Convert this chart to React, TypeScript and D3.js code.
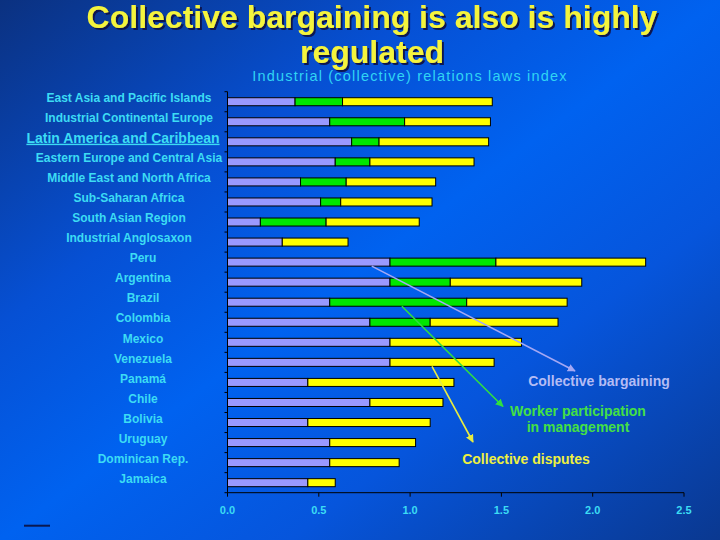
import React from 'react';
import * as d3 from 'd3';

const categories = [
    'East Asia and Pacific Islands',
    'Industrial Continental Europe',
    'Latin America and Caribbean',
    'Eastern Europe and Central Asia',
    'Middle East and North Africa',
    'Sub-Saharan Africa',
    'South Asian Region',
    'Industrial Anglosaxon',
    'Peru',
    'Argentina',
    'Brazil',
    'Colombia',
    'Mexico',
    'Venezuela',
    'Panamá',
    'Chile',
    'Bolivia',
    'Uruguay',
    'Dominican Rep.',
    'Jamaica',
];
// first rows are regions, the rest are countries
const regionCount = 8;

const bargaining = [0.37, 0.56, 0.68, 0.59, 0.40, 0.51, 0.18, 0.30, 0.89, 0.89, 0.56, 0.78, 0.89, 0.89, 0.44, 0.78, 0.44, 0.56, 0.56, 0.44];
const participation = [0.26, 0.41, 0.15, 0.19, 0.25, 0.11, 0.36, 0, 0.58, 0.33, 0.75, 0.33, 0, 0, 0, 0, 0, 0, 0, 0];
const disputes = [0.82, 0.47, 0.60, 0.57, 0.49, 0.50, 0.51, 0.36, 0.82, 0.72, 0.55, 0.70, 0.72, 0.57, 0.80, 0.40, 0.67, 0.47, 0.38, 0.15];

const xTicks = [0, 0.5, 1, 1.5, 2, 2.5];
const highlighted = 'Latin America and Caribbean';

const seriesKeys = ['bargaining', 'participation', 'disputes'];
const seriesColors: Record<string, string> = {
    bargaining: '#9999ff',
    participation: '#00e600',
    disputes: '#ffff00',
};

const width = 720;
const height = 540;
const font = '"Liberation Sans", Arial, sans-serif';

export default function App() {
    const rows = categories.map((c, i) => ({
        category: c,
        bargaining: bargaining[i],
        participation: participation[i],
        disputes: disputes[i],
    }));

    const x = d3.scaleLinear().domain([0, 2.5]).range([227.5, 684]);
    const y = d3.scaleBand<string>()
        .domain(categories)
        .range([91.7, 492.7])
        .paddingInner(0.6)
        .paddingOuter(0.3);
    const step = y.step();
    const bw = y.bandwidth();

    const stack = d3.stack<any>().keys(seriesKeys);
    const layers = stack(rows);

    // band boundaries for the small ticks on the category axis
    const bounds = categories.map(c => (y(c) as number) - step * 0.3);
    bounds.push(bounds[bounds.length - 1] + step);

    const axisY = 492.7;

    // arrows: start on a bar, end next to the annotation text
    const arrows = [
        { color: '#a4a8f4', x1: x(0.79), y1: (y('Peru') as number) + bw, x2: 575, y2: 371 },
        { color: '#30e040', x1: x(0.955), y1: (y('Brazil') as number) + bw, x2: 503, y2: 406.5 },
        { color: '#e8ec40', x1: x(1.12), y1: (y('Venezuela') as number) + bw, x2: 473, y2: 442 },
    ];

    return (
        <svg width={width} height={height} style={{ position: 'absolute', left: 0, top: 0, display: 'block' }}>
            <defs>
                <linearGradient id="bg" x1="0" y1="0" x2="1" y2="1">
                    <stop offset="0" stopColor="#0b3180" />
                    <stop offset="0.3" stopColor="#0650d4" />
                    <stop offset="0.5" stopColor="#0062f0" />
                    <stop offset="0.7" stopColor="#0655dc" />
                    <stop offset="1" stopColor="#0a3890" />
                </linearGradient>
                <filter id="shadow" x="-5%" y="-20%" width="110%" height="150%">
                    <feDropShadow dx="2" dy="2" stdDeviation="0.6" floodColor="#0a1850" floodOpacity="1" />
                </filter>
                {arrows.map((a, i) => (
                    <marker key={i} id={`head${i}`} viewBox="0 0 10 10" refX="9" refY="5"
                        markerWidth="5" markerHeight="5" orient="auto">
                        <path d="M0,0 L10,5 L0,10 z" fill={a.color} />
                    </marker>
                ))}
            </defs>
            <rect width={width} height={height} fill="url(#bg)" />

            {/* Title */}
            <g fontFamily={font} fontWeight="bold" fontSize={32} textAnchor="middle"
                fill="#f4f43c" filter="url(#shadow)">
                <text x={372} y={28}>Collective bargaining is also is highly</text>
                <text x={372} y={63}>regulated</text>
            </g>
            <text x={410} y={81} fontFamily={font} fontSize={14.5} letterSpacing={1.2}
                textAnchor="middle" fill="#30d4f4">
                Industrial (collective) relations laws index
            </text>

            {/* Bars */}
            {layers.map(layer => (
                <g key={layer.key} fill={seriesColors[layer.key]} stroke="#000" strokeWidth={1}>
                    {layer.map((d, i) => (
                        d[1] - d[0] > 0 ? (
                            <rect key={i}
                                x={x(d[0])}
                                y={y(categories[i])}
                                width={x(d[1]) - x(d[0])}
                                height={bw} />
                        ) : null
                    ))}
                </g>
            ))}

            {/* Category axis */}
            <line x1={x(0)} x2={x(0)} y1={bounds[0]} y2={axisY} stroke="#000" />
            {bounds.map((b, i) => (
                <line key={i} x1={x(0) - 3} x2={x(0)} y1={b} y2={b} stroke="#000" />
            ))}
            {categories.map((c, i) => (
                <text key={c}
                    x={c === highlighted ? 123 : i < regionCount ? 129 : 143}
                    y={(y(c) as number) + bw / 2 - 4}
                    dy="0.35em"
                    textAnchor="middle"
                    fontFamily={font}
                    fontWeight="bold"
                    fontSize={c === highlighted ? 14 : 12}
                    textDecoration={c === highlighted ? 'underline' : undefined}
                    fill="#3cdcf4">
                    {c}
                </text>
            ))}

            {/* Value axis */}
            <line x1={x(0)} x2={x(2.5)} y1={axisY} y2={axisY} stroke="#000" />
            {xTicks.map(t => (
                <g key={t}>
                    <line x1={x(t)} x2={x(t)} y1={axisY} y2={axisY + 4} stroke="#000" />
                    <text x={x(t)} y={514} textAnchor="middle" fontFamily={font}
                        fontWeight="bold" fontSize={11} fill="#3cdcf4">
                        {d3.format('.1f')(t)}
                    </text>
                </g>
            ))}

            {/* Annotations */}
            {arrows.map((a, i) => (
                <line key={i} x1={a.x1} y1={a.y1} x2={a.x2} y2={a.y2}
                    stroke={a.color} strokeWidth={1.6} markerEnd={`url(#head${i})`} />
            ))}
            <g fontFamily={font} fontWeight="bold" fontSize={14} textAnchor="middle">
                <text x={599} y={386} fill="#b4bcf4">Collective bargaining</text>
                <text x={578} y={416} fill="#44e044">Worker participation</text>
                <text x={578} y={432} fill="#44e044">in management</text>
                <text x={526} y={464} fill="#eef040">Collective disputes</text>
            </g>

            <line x1={24} x2={50} y1={525.7} y2={525.7} stroke="#0a1850" strokeWidth={2} />
        </svg>
    );
}
